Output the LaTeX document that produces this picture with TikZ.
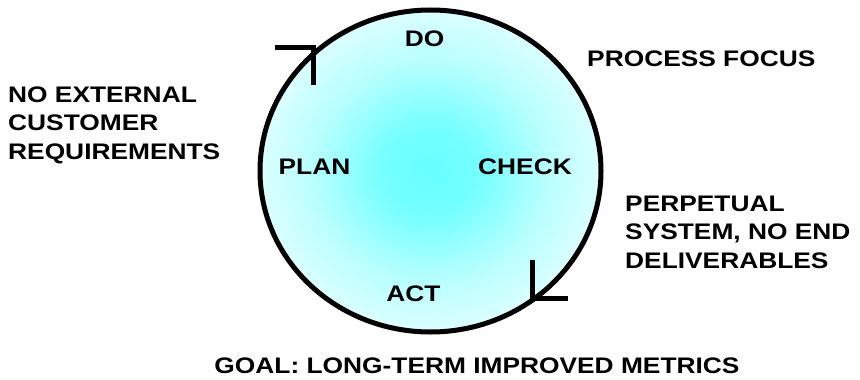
\documentclass[tikz,border=0pt]{standalone}
\usepackage{fontspec}
\setmainfont{Liberation Sans}[FakeStretch=1.17]
\pgfdeclareradialshading{glow}{\pgfpoint{0bp}{0bp}}{color(0bp)=(cyan!60);
  color(7bp)=(cyan!54); color(17bp)=(cyan!28); color(26bp)=(cyan!12);
  color(35bp)=(cyan!6); color(50bp)=(cyan!6)}

\begin{document}
\begin{tikzpicture}[x=1pt,y=-1pt,
  word/.style={font=\fontsize{22.5}{28.3}\selectfont\bfseries,inner sep=0pt},
  note/.style={word,anchor=base west,align=left},
  stage/.style={word,anchor=base},
  tick/.style={line width=5pt}]
\useasboundingbox (0,0) rectangle (860,380);
% the cycle
\shade[shading=glow,draw=black,line width=5pt]
  (430.5,171) ellipse [x radius=170.5, y radius=161];
\node[stage] (do) at (424.5,46) {DO};
\node[stage] (plan) at (314.5,174) {PLAN};
\node[stage] (check) at (525,174) {CHECK};
\node[stage] (act) at (413.5,301) {ACT};
% arrow marks
\coordinate (tl) at (313,47);
\coordinate (br) at (532,298);
\draw[tick] (275,47) -- (tl) -- (313,85);
\draw[tick] (532,260) -- (br) -- (568,298);
% side notes (base = last line)
\node[note] (focus) at (587,66) {PROCESS FOCUS};
\node[note] (noext) at (8,159) {NO EXTERNAL\\CUSTOMER\\REQUIREMENTS};
\node[note] (perp) at (625,268) {PERPETUAL\\SYSTEM, NO END\\DELIVERABLES};
\node[stage] (goal) at (477,373) {GOAL: LONG-TERM IMPROVED METRICS};
\end{tikzpicture}
\end{document}
